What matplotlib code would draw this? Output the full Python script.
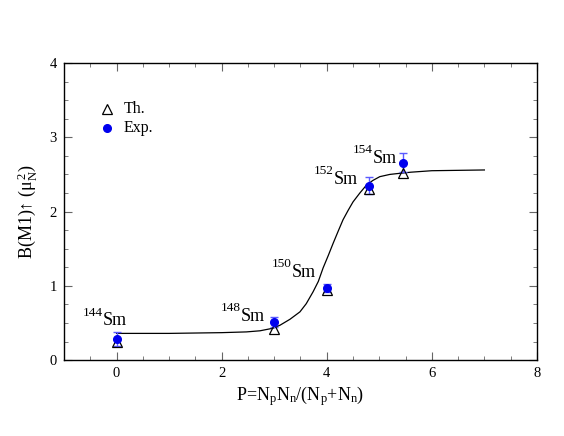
import matplotlib
matplotlib.use('Agg')
import matplotlib.pyplot as plt
from matplotlib.ticker import MultipleLocator

plt.rcParams['font.family'] = ['Liberation Serif', 'DejaVu Serif']
plt.rcParams['mathtext.fontset'] = 'custom'
plt.rcParams['mathtext.rm'] = 'Liberation Serif'
plt.rcParams['mathtext.it'] = 'Liberation Serif:italic'

# P values for 144,148,150,152,154 Sm
p_vals = [0.0, 3.0, 4.0, 4.8, 5.45]
th_vals = [0.25, 0.42, 0.95, 2.30, 2.52]
exp_vals = [0.28, 0.51, 0.97, 2.35, 2.66]
exp_err = [0.095, 0.07, 0.05, 0.11, 0.13]
isotopes = ['144', '148', '150', '152', '154']
label_x = [-0.64, 1.99, 2.95, 3.76, 4.49]
label_y = [0.47, 0.525, 1.12, 2.37, 2.657]

# smooth curve
curve_x = [0.0, 1.0, 2.0, 2.47, 2.73, 2.98, 3.11, 3.30, 3.49, 3.61, 3.74,
           3.84, 3.93, 4.03, 4.12, 4.22, 4.31, 4.41, 4.50, 4.63, 4.76, 4.88,
           5.01, 5.20, 5.39, 5.60, 6.0, 6.5, 7.0]
curve_y = [0.36, 0.36, 0.37, 0.38, 0.395, 0.43, 0.47, 0.55, 0.65, 0.76, 0.92,
           1.06, 1.24, 1.41, 1.57, 1.74, 1.89, 2.02, 2.13, 2.25, 2.36, 2.42,
           2.47, 2.50, 2.515, 2.53, 2.55, 2.555, 2.56]

fig = plt.figure(figsize=(5.64, 4.36), dpi=100)
ax = fig.add_axes([0.1135, 0.174, 0.8385, 0.6815])

ax.plot(curve_x, curve_y, color='black', lw=0.9)
ax.errorbar(p_vals, exp_vals, yerr=exp_err, fmt='none', ecolor='#5a5aff',
            elinewidth=1.0, capsize=3, capthick=1.0)
ax.plot(p_vals, th_vals, '^', mfc='none', mec='black', ms=7, mew=0.9)
ax.plot(p_vals, exp_vals, 'o', color='#0000ee', ms=5.5)

for iso, lx, ly in zip(isotopes, label_x, label_y):
    t = ax.annotate(iso, xy=(lx, ly), xytext=(0, 7), textcoords='offset points',
                    fontsize=9.5, va='baseline', ha='left')
    ax.annotate('Sm', xy=(1, ly), xycoords=(t, 'data'), fontsize=13,
                va='baseline', ha='left')

# legend
ax.plot([-0.18], [3.38], '^', mfc='none', mec='black', ms=7, mew=0.9)
ax.plot([-0.18], [3.12], 'o', color='#0000ee', ms=5.5)
ax.text(0.13, 3.38, 'Th.', fontsize=11.5, va='center')
ax.text(0.13, 3.12, 'Exp.', fontsize=11.5, va='center')

ax.set_xlim(-1, 8)
ax.set_ylim(0, 4)
ax.xaxis.set_major_locator(MultipleLocator(2))
ax.xaxis.set_minor_locator(MultipleLocator(0.5))
ax.yaxis.set_major_locator(MultipleLocator(1))
ax.yaxis.set_minor_locator(MultipleLocator(0.25))
ax.tick_params(which='both', direction='in', top=True, right=True,
               labelsize=10.5, color='#666666', pad=5)
ax.tick_params(which='major', length=6)
ax.tick_params(which='minor', length=3)
for s in ax.spines.values():
    s.set_linewidth(1.0)

ax.set_xlabel(r'P=N$_\mathregular{p}$N$_\mathregular{n}$/(N$_\mathregular{p}$+N$_\mathregular{n}$)', fontsize=13, labelpad=3)
ax.set_ylabel(r'B(M1)↑ ($\mathregular{\mu_N^{\,2}}$)', fontsize=13, labelpad=8)

plt.savefig('out.png', dpi=100)
